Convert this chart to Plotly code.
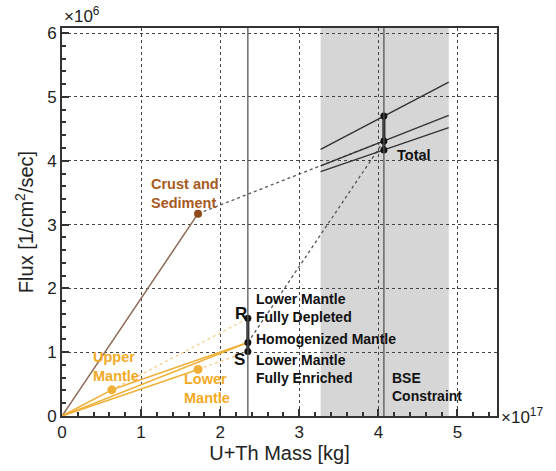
import plotly.graph_objects as go

# ---- data (mass in 1e17 kg, flux in 1e6 /cm^2/s) ----
crust_mass, crust_flux = 1.72, 3.17
um_mass, um_flux = 0.63, 0.41
lm_mass, lm_flux = 1.72, 0.73
mantle_mass = 2.35
mantle_flux = {"R": 1.53, "H": 1.15, "S": 1.01}
total_mass = 4.07
total_flux = {"R": 4.70, "H": 4.31, "S": 4.17}
bse_range = [3.27, 4.89]
x_ticks = [0, 1, 2, 3, 4, 5]
y_ticks = [0, 1, 2, 3, 4, 5, 6]

BROWN_LINE = "#8c6a56"
BROWN_TXT = "#a65a22"
BROWN_PT = "#8f4a1c"
ORANGE = "#efb038"
ORANGE_TXT = "#f2aa26"
ORANGE_LIGHT = "#f6d190"
DARK = "#333333"
FONT = "Liberation Sans, Arial, sans-serif"

fig = go.Figure()

def line(x, y, color, width=1.5, dash="solid"):
    fig.add_trace(go.Scatter(x=x, y=y, mode="lines", hoverinfo="skip",
                             line=dict(color=color, width=width, dash=dash)))

def pts(x, y, color, size=7):
    fig.add_trace(go.Scatter(x=x, y=y, mode="markers", hoverinfo="skip",
                             marker=dict(color=color, size=size)))

# BSE band
fig.add_vrect(x0=bse_range[0], x1=bse_range[1], fillcolor="#d6d6d6",
              line_width=0, layer="below")
# thin vertical lines at mantle mass and total mass
for xv in [mantle_mass, total_mass]:
    fig.add_vline(x=xv, line=dict(color="#555555", width=1.3), layer="above")

# crust
line([0, crust_mass], [0, crust_flux], BROWN_LINE, 1.5)

# mantle construction (orange)
line([0, um_mass], [0, um_flux], ORANGE, 1.6)
line([um_mass, mantle_mass], [um_flux, mantle_flux["R"]], ORANGE_LIGHT, 1.4, "dot")
line([0, lm_mass], [0, lm_flux], ORANGE, 1.6)
line([lm_mass, mantle_mass], [lm_flux, mantle_flux["S"]], ORANGE_LIGHT, 1.4, "dot")
line([um_mass, mantle_mass], [um_flux, mantle_flux["H"]], ORANGE, 1.6)
line([0, mantle_mass], [0, mantle_flux["H"]], ORANGE, 1.6)

# dotted construction to total
line([crust_mass, total_mass], [crust_flux, total_flux["H"]], "#555555", 1.3, "dot")
line([mantle_mass, total_mass], [mantle_flux["H"], total_flux["H"]], "#555555", 1.3, "dot")

# total lines within BSE band
slopes = {"R": um_flux / um_mass,
          "H": mantle_flux["H"] / mantle_mass,
          "S": lm_flux / lm_mass}
for k in ["R", "H", "S"]:
    ys = [total_flux[k] + slopes[k] * (xb - total_mass) for xb in bse_range]
    line(bse_range, ys, DARK, 1.4)

# thick R-S segments and points
line([mantle_mass, mantle_mass], [mantle_flux["S"], mantle_flux["R"]], "#111111", 3)
line([total_mass, total_mass], [total_flux["S"], total_flux["R"]], "#111111", 3)
pts([mantle_mass] * 3, list(mantle_flux.values()), "#111111", 7)
pts([total_mass] * 3, list(total_flux.values()), "#111111", 7)

pts([crust_mass], [crust_flux], BROWN_PT, 8)
pts([um_mass, lm_mass], [um_flux, lm_flux], ORANGE, 9)

# ---- text ----
def ann(text, x, y, color="#111111", size=14, xanchor="left"):
    fig.add_annotation(text=f"<b>{text}</b>", x=x, y=y,
                       xref="x", yref="y", showarrow=False, xanchor=xanchor,
                       yanchor="middle", align="left",
                       font=dict(family=FONT, size=size, color=color))

ann("Crust and<br>Sediment", 1.10, 3.49, BROWN_TXT, size=14.5)
ann("Upper<br>Mantle", 0.37, 0.775, ORANGE_TXT, size=14.5)
ann("Lower<br>Mantle", 1.52, 0.433, ORANGE_TXT, size=14.5)
ann("R", 2.26, 1.60, size=17, xanchor="center")
ann("S", 2.25, 0.89, size=17, xanchor="center")
ann("Lower Mantle<br>Fully Depleted", 2.43, 1.69)
ann("Homogenized Mantle", 2.43, 1.205)
ann("Lower Mantle<br>Fully Enriched", 2.43, 0.74)
ann("Total", 4.21, 4.09, size=14.5)
ann("BSE<br>Constraint", 4.15, 0.462)

# exponents
fig.add_annotation(text="×10<sup>6</sup>", xref="paper", yref="paper",
                   x=0.0, y=1.0, xanchor="left", yanchor="bottom", showarrow=False,
                   font=dict(family=FONT, size=17, color="#222"))
fig.add_annotation(text="×10<sup>17</sup>", xref="paper", yref="paper",
                   x=1.005, y=0.0, xanchor="left", yanchor="middle", showarrow=False,
                   font=dict(family=FONT, size=17, color="#222"))

axis_common = dict(
    ticks="inside", ticklen=7, tickwidth=1.5, tickcolor="#333",
    showgrid=True, griddash="dot", gridcolor="#444", gridwidth=1,
    showline=True, linecolor="#333", linewidth=2, mirror=True,
    zeroline=False, tickfont=dict(family=FONT, size=17, color="#222"),
)
fig.update_xaxes(range=[0, 5.5], tickvals=x_ticks, ticktext=[str(v) for v in x_ticks],
                 title=dict(text="U+Th Mass [kg]", standoff=3,
                            font=dict(family=FONT, size=20, color="#222")),
                 minor=dict(ticks="inside", ticklen=4, dtick=0.2, tick0=0,
                            tickcolor="#333", showgrid=False),
                 **axis_common)
fig.update_yaxes(range=[0, 6.08], tickvals=y_ticks, ticktext=[str(v) for v in y_ticks],
                 title=dict(text="Flux [1/cm<sup>2</sup>/sec]", standoff=8,
                            font=dict(family=FONT, size=20, color="#222")),
                 minor=dict(ticks="inside", ticklen=4, dtick=0.2, tick0=0,
                            tickcolor="#333", showgrid=False),
                 **axis_common)

fig.update_layout(
    width=556, height=471,
    margin=dict(l=62, r=59, t=28, b=55, autoexpand=False),
    plot_bgcolor="white", paper_bgcolor="white",
    showlegend=False,
    font=dict(family=FONT),
)

fig.write_html("out.html")
